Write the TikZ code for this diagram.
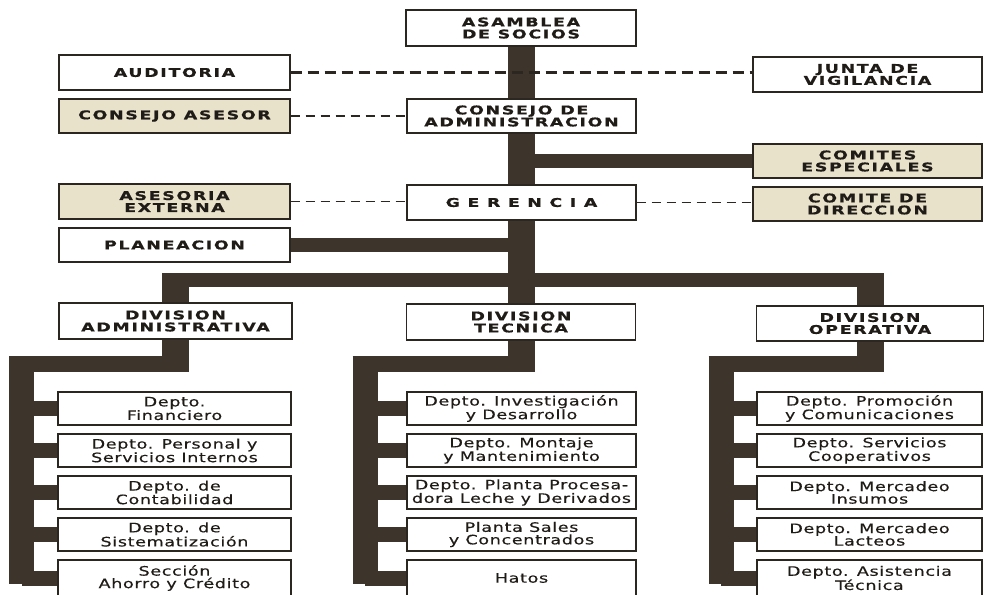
\documentclass[tikz,border=0pt]{standalone}
\usepackage{fontspec}
\usetikzlibrary{calc}
\newfontfamily\capfont{DejaVu Sans}[FakeStretch=1.45,LetterSpace=14,FakeBold=0.8]
\newfontfamily\gerfont{DejaVu Sans}[FakeStretch=1.45,LetterSpace=63,FakeBold=0.8]
\newfontfamily\depfont{DejaVu Sans}[FakeStretch=1.35,LetterSpace=5,FakeBold=0.3]
\definecolor{barc}{HTML}{3D352B}
\definecolor{linec}{HTML}{2B2620}
\definecolor{txtc}{HTML}{1F1B17}
\definecolor{shade}{HTML}{E8E2CB}
\pgfdeclarelayer{bg}
\pgfsetlayers{bg,main}
\tikzset{
  box/.style={draw=linec, line width=1.2pt, fill=white, inner sep=0pt, align=center, text=txtc},
  capbox/.style={box, font=\capfont\bfseries\fontsize{12}{12}\selectfont},
  gerbox/.style={box, font=\gerfont\bfseries\fontsize{12}{12}\selectfont},
  shaded/.style={fill=shade},
  depbox/.style={box, font=\depfont\fontsize{13}{12.5}\selectfont, minimum height=33pt},
  colL/.style={depbox, minimum width=233pt},
  colM/.style={depbox, minimum width=229pt},
  colR/.style={depbox, minimum width=225pt},
  vbar/.style={draw=barc, line width=27pt},
  spinebar/.style={draw=barc, line width=25pt},
  hbar/.style={draw=barc, line width=14pt},
  lbar/.style={draw=barc, line width=16pt},
  tbar/.style={draw=barc, line width=15pt},
  dashA/.style={draw=linec, line width=2.4pt, dash pattern=on 11pt off 6pt},
  dashB/.style={draw=linec, line width=1.4pt, dash pattern=on 9pt off 6pt},
}
\begin{document}
\begin{tikzpicture}[x=1pt,y=-1pt]
\useasboundingbox (0,0) rectangle (984,594);
\begin{pgfonlayer}{bg}
\fill[white] (0,0) rectangle (984,594);
\end{pgfonlayer}
% top part
\node[capbox, minimum width=230pt, minimum height=36pt] (asam) at (521,28) {ASAMBLEA\\DE SOCIOS};
\node[capbox, minimum width=231pt, minimum height=35pt] (aud) at (174.5,72.5) {AUDITORIA};
\node[capbox, minimum width=229pt, minimum height=35pt] (junta) at (867.5,74.5) {JUNTA DE\\VIGILANCIA};
\node[capbox, shaded, minimum width=231pt, minimum height=34pt] (casesor) at (174.5,116) {CONSEJO ASESOR};
\node[capbox, minimum width=229pt, minimum height=34pt] (cadmin) at (521.5,116) {CONSEJO DE\\ADMINISTRACION};
\node[capbox, shaded, minimum width=229pt, minimum height=34pt] (comites) at (867.5,161) {COMITES\\ESPECIALES};
\node[capbox, shaded, minimum width=231pt, minimum height=35pt] (aseext) at (174.5,201.5) {ASESORIA\\EXTERNA};
\node[gerbox, minimum width=229pt, minimum height=35pt] (ger) at (521.5,202.5) {GERENCIA};
\node[capbox, shaded, minimum width=229pt, minimum height=34pt] (cdir) at (867.5,204) {COMITE DE\\DIRECCION};
\node[capbox, minimum width=231pt, minimum height=34pt] (plan) at (174.5,245) {PLANEACION};
% divisions
\node[capbox, minimum width=233pt, minimum height=36pt] (divA) at (175.5,321) {DIVISION\\ADMINISTRATIVA};
\node[capbox, minimum width=229pt, minimum height=36pt] (divT) at (521,322) {DIVISION\\TECNICA};
\node[capbox, minimum width=227pt, minimum height=35pt] (divO) at (870,323.5) {DIVISION\\OPERATIVA};
% departments
\node[colL] (L1) at (174.5,408.5) {Depto.\\Financiero};
\node[colL] (L2) at (174.5,450.5) {Depto. Personal y\\Servicios Internos};
\node[colL] (L3) at (174.5,492.5) {Depto. de\\Contabilidad};
\node[colL] (L4) at (174.5,534.5) {Depto. de\\Sistematización};
\node[colL, minimum height=36pt] (L5) at (174.5,578) {Sección\\Ahorro y Crédito};
\node[colM] (M1) at (521.5,408.5) {Depto. Investigación\\y Desarrollo};
\node[colM] (M2) at (521.5,450.5) {Depto. Montaje\\y Mantenimiento};
\node[colM] (M3) at (521.5,492.5) {Depto. Planta Procesa-\\dora Leche y Derivados};
\node[colM] (M4) at (521.5,534.5) {Planta Sales\\y Concentrados};
\node[colM, minimum height=36pt] (M5) at (521.5,578) {Hatos};
\node[colR] (R1) at (869.5,408.5) {Depto. Promoción\\y Comunicaciones};
\node[colR] (R2) at (869.5,450.5) {Depto. Servicios\\Cooperativos};
\node[colR] (R3) at (869.5,492.5) {Depto. Mercadeo\\Insumos};
\node[colR] (R4) at (869.5,534.5) {Depto. Mercadeo\\Lacteos};
\node[colR, minimum height=36pt] (R5) at (869.5,578) {Depto. Asistencia\\Técnica};
% coordinates
\coordinate (hb) at (0,280);
\coordinate (sL) at (21.5,364);
\coordinate (sM) at (365,364);
\coordinate (sR) at (721,364);
\begin{pgfonlayer}{bg}
\draw[vbar] (asam.south) -- (divT.north);
\draw[hbar] (asam.south |- comites.west) -- (comites.west);
\draw[hbar] (plan.east) -- (asam.south |- plan.east);
\draw[hbar] ($(divA.north |- hb)+(-13.5,0)$) -- ($(divO.north |- hb)+(13.5,0)$);
\draw[vbar] (divA.north) -- ($(divA.north |- hb)+(0,-7)$);
\draw[vbar] (divO.north) -- ($(divO.north |- hb)+(0,-7)$);
% left column
\draw[vbar] (divA.south) -- ($(divA.south |- sL)+(0,8)$);
\draw[lbar] ($(sL)+(-12.5,0)$) -- ($(divA.south |- sL)+(13.5,0)$);
\draw[spinebar] ($(sL)+(0,-8)$) -- ($(sL |- L5.west)+(0,6)$);
\foreach \b in {L1,L2,L3,L4,L5} \draw[tbar] (sL |- \b.west) -- (\b.west);
% middle column
\draw[vbar] (divT.south) -- ($(divT.south |- sM)+(0,8)$);
\draw[lbar] ($(sM)+(-12.5,0)$) -- ($(divT.south |- sM)+(13.5,0)$);
\draw[spinebar] ($(sM)+(0,-8)$) -- ($(sM |- M5.west)+(0,6)$);
\foreach \b in {M1,M2,M3,M4,M5} \draw[tbar] (sM |- \b.west) -- (\b.west);
% right column
\draw[vbar] (divO.south) -- ($(divO.south |- sR)+(0,8)$);
\draw[lbar] ($(sR)+(-12.5,0)$) -- ($(divO.south |- sR)+(13.5,0)$);
\draw[spinebar] ($(sR)+(0,-8)$) -- ($(sR |- R5.west)+(0,6)$);
\foreach \b in {R1,R2,R3,R4,R5} \draw[tbar] (sR |- \b.west) -- (\b.west);
\end{pgfonlayer}
% dashed links
\draw[dashA] (aud.east) -- (aud.east -| junta.west);
\draw[dashB] (casesor.east) -- (cadmin.west);
\draw[dashB] (aseext.east) -- (aseext.east -| ger.west);
\draw[dashB] (ger.east) -- (ger.east -| cdir.west);
\end{tikzpicture}
\end{document}
